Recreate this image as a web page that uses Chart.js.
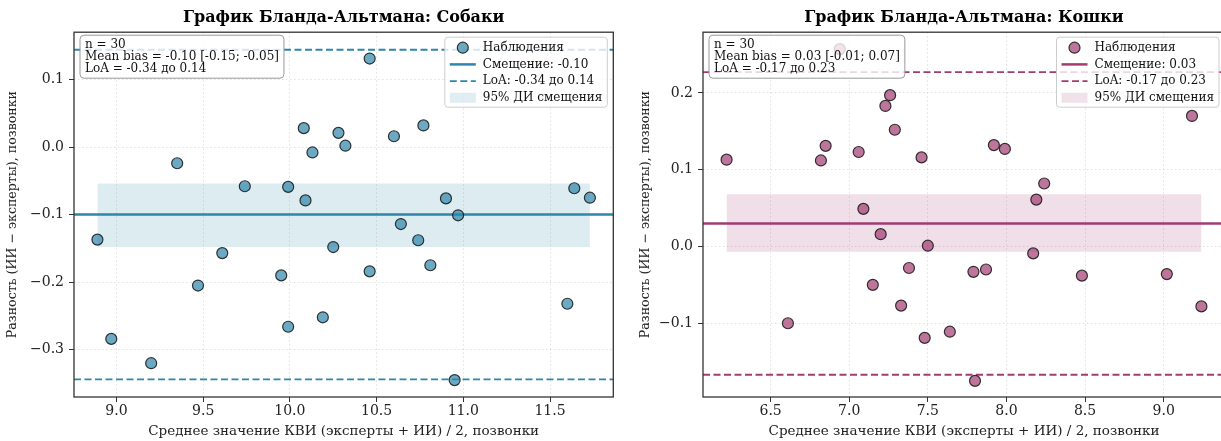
<!DOCTYPE html>
<html>
<head>
<meta charset="utf-8">
<script src="https://cdn.jsdelivr.net/npm/chart.js@4.4.1/dist/chart.umd.min.js"></script>
<style>
  html, body { margin: 0; padding: 0; background: #fff; }
  body { width: 1221px; height: 441px; overflow: hidden; position: relative; }
  #dogs { position: absolute; left: 0; top: 0; }
  #cats { position: absolute; left: 620px; top: 0; }
</style>
</head>
<body>
<canvas id="dogs" width="620" height="441"></canvas>
<canvas id="cats" width="620" height="441"></canvas>
<script>
const FONT = "'DejaVu Serif', 'Liberation Serif', serif";

// Собаки: среднее КВИ и разность ИИ - эксперты
const dogMean = [8.89, 8.97, 9.20, 9.35, 9.47, 9.61, 9.74, 9.95, 9.99, 9.99,
  10.08, 10.09, 10.13, 10.19, 10.25, 10.28, 10.32, 10.46, 10.46, 10.60,
  10.64, 10.74, 10.77, 10.81, 10.90, 10.95, 10.97, 11.60, 11.64, 11.73];
const dogDiff = [-0.137, -0.284, -0.320, -0.024, -0.205, -0.157, -0.058, -0.190, -0.059, -0.266,
  0.028, -0.079, -0.008, -0.252, -0.148, 0.021, 0.002, -0.184, 0.131, 0.016,
  -0.114, -0.138, 0.032, -0.175, -0.076, -0.345, -0.101, -0.232, -0.061, -0.075];
const dogBias = -0.100;
const dogCi = [-0.148, -0.054];
const dogLoa = [-0.344, 0.144];
const dogXRange = [8.755, 11.865];
const dogYRange = [-0.370, 0.170];
const dogXTicks = [9.0, 9.5, 10.0, 10.5, 11.0, 11.5];
const dogYTicks = [-0.3, -0.2, -0.1, 0.0, 0.1];

// Кошки
const catMean = [6.22, 6.61, 6.82, 6.85, 6.94, 7.06, 7.09, 7.15, 7.20, 7.23,
  7.26, 7.29, 7.33, 7.38, 7.46, 7.48, 7.50, 7.64, 7.79, 7.80,
  7.87, 7.92, 7.99, 8.17, 8.19, 8.24, 8.48, 9.02, 9.18, 9.24];
const catDiff = [0.113, -0.100, 0.112, 0.131, 0.257, 0.123, 0.049, -0.050, 0.016, 0.183,
  0.197, 0.152, -0.077, -0.028, 0.116, -0.119, 0.001, -0.111, -0.033, -0.175,
  -0.030, 0.132, 0.127, -0.009, 0.061, 0.082, -0.038, -0.036, 0.170, -0.078];
const catBias = 0.030;
const catCi = [-0.007, 0.068];
const catLoa = [-0.167, 0.227];
const catXRange = [6.07, 9.39];
const catYRange = [-0.196, 0.279];
const catXTicks = [6.5, 7.0, 7.5, 8.0, 8.5, 9.0];
const catYTicks = [-0.1, 0.0, 0.1, 0.2];

const xLabel = 'Среднее значение КВИ (эксперты + ИИ) / 2, позвонки';
const yLabel = 'Разность (ИИ − эксперты), позвонки';

function rgba(hex, a) {
  const n = parseInt(hex.slice(1), 16);
  return `rgba(${(n >> 16) & 255},${(n >> 8) & 255},${n & 255},${a})`;
}
const f2 = v => v.toFixed(2);
const tickFmt = v => Number(v).toFixed(1).replace('-', '\u2212');

function roundBox(ctx, x, y, w, h, r) {
  ctx.beginPath();
  ctx.moveTo(x + r, y);
  ctx.lineTo(x + w - r, y);
  ctx.arcTo(x + w, y, x + w, y + r, r);
  ctx.lineTo(x + w, y + h - r);
  ctx.arcTo(x + w, y + h, x + w - r, y + h, r);
  ctx.lineTo(x + r, y + h);
  ctx.arcTo(x, y + h, x, y + h - r, r);
  ctx.lineTo(x, y + r);
  ctx.arcTo(x, y, x + r, y, r);
  ctx.closePath();
}

// spines, stats box and legend inside the axes
const overlay = {
  id: 'baOverlay',
  afterDraw(chart, args, o) {
    const ctx = chart.ctx, a = chart.chartArea;
    ctx.save();
    ctx.strokeStyle = '#333';
    ctx.lineWidth = 1.3;
    ctx.strokeRect(a.left, a.top, a.right - a.left, a.bottom - a.top);

    // stats text box (upper left)
    ctx.font = `12px ${FONT}`;
    const tw = Math.max(...o.stats.map(s => ctx.measureText(s).width));
    const tx = a.left + o.statsDx, ty = a.top + o.statsDy;
    roundBox(ctx, tx - 5, ty - 4, tw + 10, o.statsPitch * 3 + 7, 4);
    ctx.fillStyle = 'rgba(255,255,255,0.8)';
    ctx.fill();
    ctx.strokeStyle = '#999';
    ctx.lineWidth = 1;
    ctx.stroke();
    ctx.fillStyle = '#111';
    ctx.textBaseline = 'middle';
    o.stats.forEach((s, i) => ctx.fillText(s, tx, ty + o.statsPitch * (i + 0.5)));

    // legend (upper right)
    ctx.font = `12px ${FONT}`;
    const lw = Math.max(...o.legend.map(e => ctx.measureText(e.text).width));
    const bw = 38 + lw + 5, bh = 70;
    const bx = a.right - 6 - bw, by = a.top + 5;
    roundBox(ctx, bx, by, bw, bh, 3);
    ctx.fillStyle = 'rgba(255,255,255,0.8)';
    ctx.fill();
    ctx.strokeStyle = '#ccc';
    ctx.stroke();
    o.legend.forEach((e, i) => {
      const cy = by + 10.5 + i * 16.7;
      ctx.save();
      if (e.kind === 'marker') {
        ctx.beginPath();
        ctx.arc(bx + 18, cy, 5.5, 0, Math.PI * 2);
        ctx.fillStyle = rgba(o.color, 0.7);
        ctx.fill();
        ctx.strokeStyle = 'rgba(20,20,20,0.85)';
        ctx.lineWidth = 1.2;
        ctx.stroke();
      } else if (e.kind === 'line' || e.kind === 'dash') {
        ctx.beginPath();
        ctx.moveTo(bx + 5, cy);
        ctx.lineTo(bx + 31, cy);
        ctx.strokeStyle = o.color;
        ctx.lineWidth = e.kind === 'line' ? 2.5 : 1.8;
        if (e.kind === 'dash') ctx.setLineDash([7, 3.5]);
        ctx.stroke();
      } else {
        ctx.fillStyle = rgba(o.color, 0.15);
        ctx.fillRect(bx + 5, cy - 5, 26, 10);
      }
      ctx.restore();
      ctx.fillStyle = '#111';
      ctx.textBaseline = 'middle';
      ctx.fillText(e.text, bx + 38, cy);
    });
    ctx.restore();
  }
};

function makeChart(id, p) {
  const pts = p.x.map((v, i) => ({ x: v, y: p.y[i] }));
  const lo = Math.min(...p.x), hi = Math.max(...p.x);
  const [x0, x1] = p.xRange;
  const hline = y => [{ x: x0, y }, { x: x1, y }];
  const gridOpts = { color: 'rgba(170,170,170,0.45)', lineWidth: 0.8, tickColor: '#333', tickLength: 5, tickWidth: 1 };
  return new Chart(document.getElementById(id), {
    type: 'scatter',
    data: {
      datasets: [
        { label: 'Наблюдения', data: pts, pointRadius: 5.5, pointHoverRadius: 5.5,
          backgroundColor: rgba(p.color, 0.7), borderColor: 'rgba(20,20,20,0.85)', borderWidth: 1.2 },
        { type: 'line', data: hline(p.bias), borderColor: p.color, borderWidth: 2.5, pointRadius: 0 },
        { type: 'line', data: hline(p.loa[1]), borderColor: p.color, borderWidth: 1.8, borderDash: [7, 3.5], pointRadius: 0 },
        { type: 'line', data: hline(p.loa[0]), borderColor: p.color, borderWidth: 1.8, borderDash: [7, 3.5], pointRadius: 0 },
        { type: 'line', data: [{ x: lo, y: p.ci[1] }, { x: hi, y: p.ci[1] }], borderWidth: 0, pointRadius: 0,
          fill: '+1', backgroundColor: rgba(p.color, 0.16) },
        { type: 'line', data: [{ x: lo, y: p.ci[0] }, { x: hi, y: p.ci[0] }], borderWidth: 0, pointRadius: 0 }
      ]
    },
    options: {
      responsive: false,
      animation: false,
      events: [],
      layout: { padding: { left: 0, right: p.padRight, top: 0, bottom: 0 } },
      scales: {
        x: {
          type: 'linear', min: x0, max: x1,
          afterBuildTicks: s => { s.ticks = p.xTicks.map(v => ({ value: v })); },
          afterFit: s => { s.height = 44; },
          ticks: { callback: tickFmt, font: { family: FONT, size: 14 }, color: '#222', padding: 1, maxRotation: 0, autoSkip: false },
          grid: gridOpts,
          border: { display: false, dash: [1.5, 2.5] },
          title: { display: true, text: xLabel, font: { family: FONT, size: 13.5 }, color: '#222', padding: { top: 0, bottom: 1 } }
        },
        y: {
          type: 'linear', min: p.yRange[0], max: p.yRange[1],
          afterBuildTicks: s => { s.ticks = p.yTicks.map(v => ({ value: v })); },
          afterFit: s => { s.width = p.yWidth; },
          ticks: { callback: tickFmt, font: { family: FONT, size: 14 }, color: '#222', padding: 5, autoSkip: false },
          grid: gridOpts,
          border: { display: false, dash: [1.5, 2.5] },
          title: { display: true, text: yLabel, font: { family: FONT, size: 12.6 }, color: '#222', padding: { top: p.yTitlePad, bottom: 0 } }
        }
      },
      plugins: {
        legend: { display: false },
        tooltip: { enabled: false },
        title: { display: true, text: p.title, fullSize: false, color: '#000',
          font: { family: FONT, size: 16, weight: 'bold' }, padding: { top: 8, bottom: 5 } },
        baOverlay: {
          color: p.color,
          statsDx: 11, statsDy: 7, statsPitch: 12,
          stats: [`n = ${p.x.length}`, `Mean bias = ${f2(p.bias)} [${f2(p.ci[0])}; ${f2(p.ci[1])}]`,
            `LoA = ${f2(p.loa[0])} до ${f2(p.loa[1])}`],
          legend: [
            { kind: 'marker', text: 'Наблюдения' },
            { kind: 'line', text: `Смещение: ${f2(p.bias)}` },
            { kind: 'dash', text: `LoA: ${f2(p.loa[0])} до ${f2(p.loa[1])}` },
            { kind: 'patch', text: '95% ДИ смещения' }
          ]
        }
      }
    },
    plugins: [overlay]
  });
}

makeChart('dogs', {
  title: 'График Бланда-Альтмана: Собаки', color: '#2E86AB',
  x: dogMean, y: dogDiff, bias: dogBias, ci: dogCi, loa: dogLoa,
  xRange: dogXRange, yRange: dogYRange, xTicks: dogXTicks, yTicks: dogYTicks,
  yWidth: 74, yTitlePad: 5.5, padRight: 1
});
makeChart('cats', {
  title: 'График Бланда-Альтмана: Кошки', color: '#A23B72',
  x: catMean, y: catDiff, bias: catBias, ci: catCi, loa: catLoa,
  xRange: catXRange, yRange: catYRange, xTicks: catXTicks, yTicks: catYTicks,
  yWidth: 83, yTitlePad: 18.5, padRight: 15
});
</script>
</body>
</html>
